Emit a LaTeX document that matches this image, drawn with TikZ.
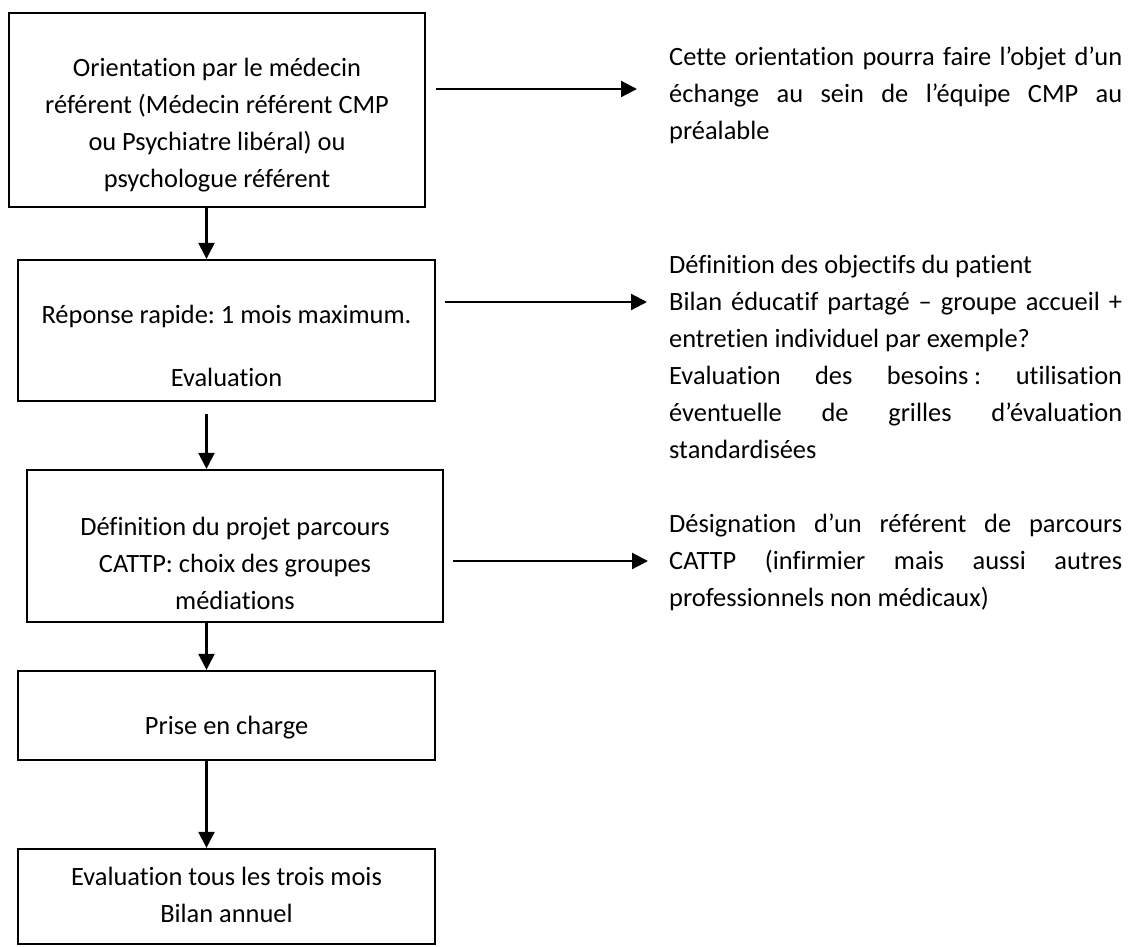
\documentclass[tikz,border=0pt]{standalone}
\usepackage{fontspec}
\setmainfont{Carlito}[RawFeature=-liga]
\usetikzlibrary{arrows.meta}
\newcommand\jline[1]{\makebox[453pt][s]{#1}}
\frenchspacing
\begin{document}
\begin{tikzpicture}[x=1pt,y=-1pt,
  box/.style={draw=black, line width=2.2pt, inner sep=0pt, rectangle},
  txt/.style={inner sep=0pt, font=\fontsize{26.4}{37}\selectfont\frenchspacing},
  flow/.style={line width=2.2pt, -{Triangle[length=16pt,width=16pt]}},
]
\useasboundingbox (0,0) rectangle (1128,946);
\fill[white] (0,0) rectangle (1128,946);

% boxes
\node[box, minimum width=416pt, minimum height=194pt] (b1) at (217,110) {};
\node[box, minimum width=417pt, minimum height=141pt] (b2) at (226.5,330.5) {};
\node[box, minimum width=416pt, minimum height=152pt] (b3) at (235,546) {};
\node[box, minimum width=417pt, minimum height=89pt] (b4) at (226.5,715.5) {};
\node[box, minimum width=417pt, minimum height=95pt] (b5) at (226.5,896.5) {};

% box texts
\node[txt, anchor=base] (t1) at (217,76) {\begin{tabular}[t]{@{}c@{}}Orientation par le médecin\\référent (Médecin référent CMP\\ou Psychiatre libéral) ou\\psychologue référent\end{tabular}};
\node[txt, anchor=base] (t2) at (226.5,323) {\begin{tabular}[t]{@{}c@{}}Réponse rapide: 1 mois maximum.\\[26pt]Evaluation\end{tabular}};
\node[txt, anchor=base] (t3) at (235,535) {\begin{tabular}[t]{@{}c@{}}Définition du projet parcours\\CATTP: choix des groupes\\médiations\end{tabular}};
\node[txt, anchor=base] (t4) at (226.5,734) {Prise en charge};
\node[txt, anchor=base] (t5) at (226.5,885) {\begin{tabular}[t]{@{}c@{}}Evaluation tous les trois mois\\Bilan annuel\end{tabular}};

% right texts
\node[txt, anchor=base west] (r1) at (669,65) {\begin{tabular}[t]{@{}l@{}}\jline{Cette orientation pourra faire l’objet d’un}\\\jline{échange au sein de l’équipe CMP au}\\préalable\end{tabular}};
\node[txt, anchor=base west] (r2) at (669,273) {\begin{tabular}[t]{@{}l@{}}Définition des objectifs du patient\\\jline{Bilan éducatif partagé – groupe accueil +}\\entretien individuel par exemple?\\\jline{Evaluation des besoins\kern0.22em: utilisation}\\\jline{éventuelle de grilles d’évaluation}\\standardisées\end{tabular}};
\node[txt, anchor=base west] (r3) at (669,532) {\begin{tabular}[t]{@{}l@{}}\jline{Désignation d’un référent de parcours}\\\jline{CATTP (infirmier mais aussi autres}\\professionnels non médicaux)\end{tabular}};

% vertical arrows
\coordinate (vx) at (206.5,0);
\draw[flow] (b1.south -| vx) -- (b2.north -| vx);
\draw[flow, shorten <=12pt] (b2.south -| vx) -- (b3.north -| vx);
\draw[flow] (b3.south -| vx) -- (b4.north -| vx);
\draw[flow] (b4.south -| vx) -- (b5.north -| vx);

% horizontal arrows
\coordinate (e1) at (637,89);
\coordinate (e2) at (647,302);
\coordinate (e3) at (648,561);
\draw[flow, shorten <=10pt] (b1.east |- e1) -- (e1);
\draw[flow, shorten <=9pt] (b2.east |- e2) -- (e2);
\draw[flow, shorten <=9pt] (b3.east |- e3) -- (e3);
\end{tikzpicture}
\end{document}
